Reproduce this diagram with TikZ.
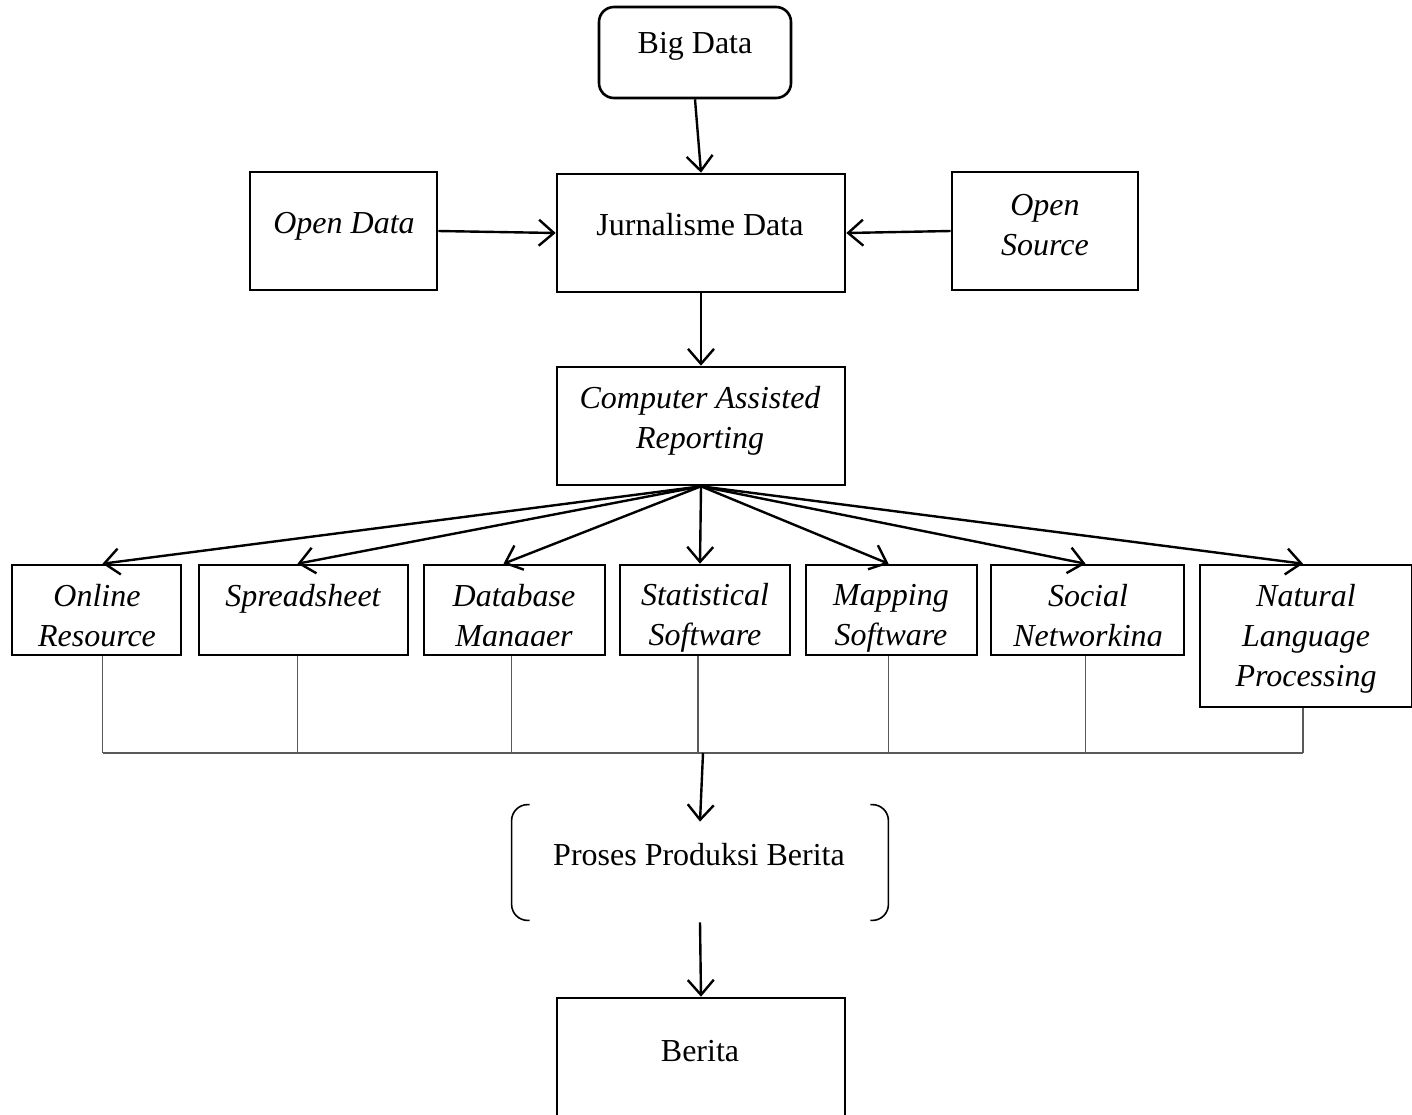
\documentclass[tikz,border=0pt]{standalone}
\usepackage{fontspec}
\setmainfont{Liberation Serif}
\usetikzlibrary{arrows.meta,calc}
\begin{document}
\begin{tikzpicture}[x=0.5pt,y=-0.5pt,
  box/.style={draw,line width=1.3pt,inner sep=0pt},
  lbl/.style={inner sep=0pt,align=center,font=\fontsize{16pt}{20pt}\selectfont},
  ilbl/.style={lbl,font=\fontsize{16pt}{20pt}\selectfont\itshape},
  arr/.style={line width=1.2pt,-{Straight Barb[length=7.5pt,width=13pt,line width=1.2pt]}},
  thin/.style={line width=0.6pt,draw=black!65}]
\clip (0,0) rectangle (1412,1114);
\fill[white] (0,0) rectangle (1412,1114);
% top
\node[box,rounded corners=7.5pt,minimum width=96pt,minimum height=45.5pt] (big) at (695,52.5) {};
\node[lbl] (tbig) at (695,46) {Big Data};
\node[box,minimum width=144pt,minimum height=59pt] (jd) at (701,233) {};
\node[lbl] (tjd) at (700,225) {Jurnalisme Data};
\node[box,minimum width=93.5pt,minimum height=59pt] (od) at (343.5,231) {};
\node[ilbl] (tod) at (344,226) {Open Data};
\node[box,minimum width=93pt,minimum height=59pt] (os) at (1045,231) {};
\node[ilbl] (tos) at (1045,225) {Open\\Source};
\node[box,minimum width=144pt,minimum height=59pt] (car) at (701,426) {};
\node[ilbl] (tcar) at (700,421) {Computer Assisted\\Reporting};
% bottom row
\node[box,minimum width=84.5pt,minimum height=45pt] (b1) at (96.5,610) {};
\node[ilbl] (t1) at (97,616) {Online\\Resource};
\node[box,minimum width=104.5pt,minimum height=45pt] (b2) at (303.5,610) {};
\node[ilbl] (t2) at (303,599) {Spreadsheet};
\node[box,minimum width=90.5pt,minimum height=45pt] (b3) at (514.5,610) {};
\begin{scope}
\clip (424,560) rectangle (605,645);
\node[ilbl] (t3) at (514,619) {Database\\Manager};
\end{scope}
\node[box,minimum width=85pt,minimum height=45pt] (b4) at (705,610) {};
\node[ilbl] (t4) at (705,618) {Statistical\\Software};
\node[box,minimum width=85.5pt,minimum height=45pt] (b5) at (891.5,610) {};
\node[ilbl] (t5) at (891,618) {Mapping\\Software};
\node[box,minimum width=96.5pt,minimum height=45pt] (b6) at (1087.5,610) {};
\begin{scope}
\clip (991,560) rectangle (1184,645);
\node[ilbl] (t6) at (1088,619) {Social\\Networking};
\end{scope}
\node[box,minimum width=106pt,minimum height=71pt] (b7) at (1306,636) {};
\node[ilbl] (t7) at (1306,639) {Natural\\Language\\Processing};
% process bracket
\node[minimum width=188pt,minimum height=57.5pt,inner sep=0pt] (proc) at (700,862.5) {};
\node[lbl] (tproc) at (699,855) {Proses Produksi Berita};
\draw[line width=0.8pt,rounded corners=8pt] ([xshift=9pt]proc.north west) -| (proc.west) |- ([xshift=9pt]proc.south west);
\draw[line width=0.8pt,rounded corners=8pt] ([xshift=-9pt]proc.north east) -| (proc.east) |- ([xshift=-9pt]proc.south east);
\node[box,minimum width=144pt,minimum height=71pt] (ber) at (701,1069) {};
\node[lbl] (tber) at (700,1051) {Berita};
% arrows
\draw[arr] (big.south) -- (jd.north);
\draw[arr] (od.east) -- (jd.west);
\draw[arr] (os.west) -- (jd.east);
\draw[arr] (jd.south) -- (car.north);
\foreach \b/\dx in {b1/6,b2/-6,b3/-11,b4/-5,b5/-3,b6/-2,b7/-3}
  \draw[arr] (car.south) -- ([xshift=\dx*0.5pt]\b.north);
% bus
\coordinate (bus) at (700,753);
\foreach \b/\dx in {b1/6,b2/-6,b3/-3,b4/-7,b5/-3,b6/-2,b7/-3}
  \draw[thin] ([xshift=\dx*0.5pt]\b.south) -- ([xshift=\dx*0.5pt]\b.south |- bus);
\draw[thin] ([xshift=3pt]b1.south |- bus) -- ([xshift=-1.5pt]b7.south |- bus);
\draw[arr] ([xshift=-1pt]b4.south |- bus) -- ([yshift=-8.5pt]proc.north);
\draw[arr] ([yshift=-1pt]proc.south) -- (ber.north);
\end{tikzpicture}
\end{document}
